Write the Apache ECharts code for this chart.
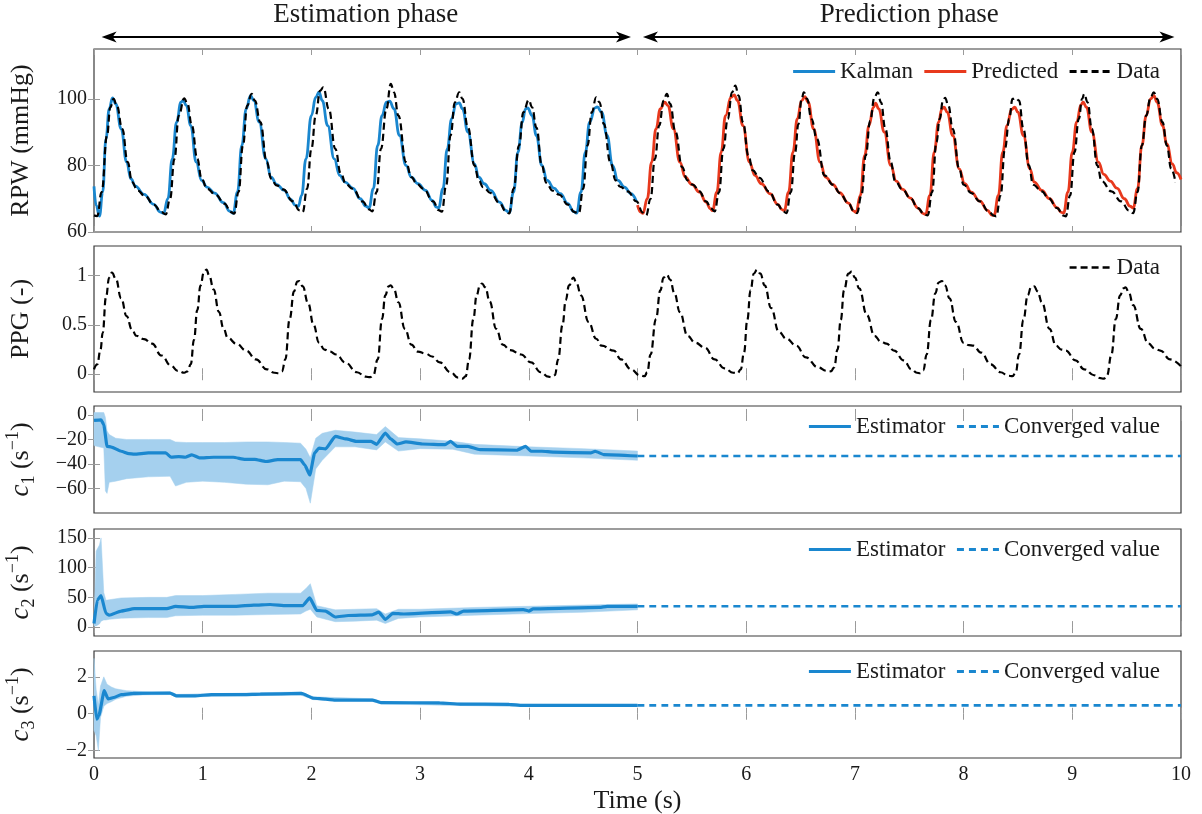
<!DOCTYPE html>
<html>
<head>
<meta charset="utf-8">
<script src="https://cdn.jsdelivr.net/npm/echarts@6.0.0/dist/echarts.min.js"></script>
<style>
  html, body { margin: 0; padding: 0; background: #fff; }
  #chart { width: 1202px; height: 814px; }
</style>
</head>
<body>
<div id="chart"></div>
<script>
// ---- data ----
// RPW (mmHg), measured
var rpwData = [
  [0.00, 65.0], [0.03, 64.8], [0.07, 72], [0.12, 89], [0.15, 97.5], [0.18, 100], [0.21, 98], [0.26, 91], [0.31, 81], [0.35, 75], [0.40, 72.5], [0.47, 70.8], [0.55, 68.2], [0.62, 66], [0.66, 65.3],
  [0.70, 70], [0.74, 82], [0.78, 95], [0.83, 100.2], [0.86, 98.5], [0.90, 92], [0.95, 82], [0.99, 76], [1.04, 73], [1.12, 71.2], [1.20, 68.5], [1.26, 66], [1.29, 65.5],
  [1.33, 72], [1.37, 86], [1.41, 98], [1.45, 101.5], [1.48, 99.5], [1.53, 93], [1.59, 81], [1.63, 76], [1.68, 74], [1.74, 72.8], [1.83, 69.2], [1.89, 66.5], [1.92, 66],
  [1.96, 73], [2.00, 85], [2.04, 95], [2.08, 102.5], [2.11, 103.5], [2.16, 97], [2.22, 85], [2.27, 77.5], [2.32, 74.3], [2.38, 73], [2.47, 69.2], [2.53, 66.8], [2.56, 66.2],
  [2.60, 72], [2.64, 85], [2.69, 97], [2.73, 104.5], [2.76, 102], [2.80, 95], [2.87, 81], [2.92, 76.5], [2.97, 74.5], [3.03, 73], [3.12, 69.2], [3.17, 66.6], [3.20, 66.1],
  [3.24, 74], [3.28, 89], [3.32, 99], [3.36, 102], [3.39, 100], [3.44, 91.4], [3.50, 80], [3.54, 75.5], [3.58, 73.5], [3.65, 71.7], [3.73, 68.7], [3.79, 66.2], [3.82, 65.6],
  [3.86, 73], [3.91, 86], [3.95, 96], [4.00, 99.7], [4.03, 97.5], [4.07, 91.4], [4.12, 80], [4.16, 74.8], [4.22, 72.4], [4.28, 71.2], [4.36, 68.2], [4.42, 66], [4.46, 65.6],
  [4.50, 73], [4.54, 86], [4.58, 96], [4.62, 100.5], [4.65, 99], [4.69, 92.5], [4.75, 81], [4.80, 75.5], [4.84, 73.6], [4.91, 72.2], [4.99, 69.2], [5.05, 65.8], [5.08, 65],
  [5.12, 70], [5.16, 82], [5.20, 92], [5.24, 99.5], [5.27, 101.5], [5.30, 98.5], [5.35, 90], [5.41, 79.5], [5.46, 75.5], [5.51, 74.2], [5.57, 72.2], [5.63, 69.2], [5.68, 67], [5.71, 66.2],
  [5.75, 72], [5.79, 85], [5.83, 94], [5.87, 102], [5.90, 104], [5.93, 101], [5.97, 93], [6.02, 83], [6.06, 78.5], [6.12, 76.3], [6.21, 72.2], [6.29, 68.2], [6.34, 66.2], [6.37, 65.7],
  [6.41, 72], [6.45, 84], [6.48, 92.4], [6.51, 100], [6.53, 102], [6.56, 100], [6.60, 94], [6.65, 88], [6.72, 77], [6.80, 74.2], [6.86, 71.7], [6.94, 68.7], [6.99, 66.3], [7.02, 65.7],
  [7.06, 71], [7.10, 83], [7.14, 93.4], [7.18, 100.5], [7.21, 102], [7.24, 99], [7.28, 91], [7.33, 81], [7.37, 75.3], [7.44, 72.7], [7.51, 70.2], [7.58, 67.2], [7.64, 65.2], [7.67, 65],
  [7.71, 72], [7.75, 87], [7.78, 94], [7.81, 99.5], [7.83, 100.3], [7.86, 98], [7.90, 91], [7.96, 79], [8.00, 74.2], [8.07, 71.7], [8.15, 69.2], [8.23, 66.2], [8.28, 64.9], [8.30, 64.7],
  [8.34, 71], [8.38, 85], [8.42, 94], [8.45, 100], [8.48, 100.3], [8.51, 99.5], [8.55, 91], [8.60, 80], [8.64, 74.2], [8.72, 72.2], [8.78, 70.2], [8.86, 67.2], [8.92, 64.9], [8.94, 64.7],
  [8.98, 71], [9.02, 84], [9.06, 94], [9.09, 100], [9.11, 101.5], [9.14, 99], [9.18, 91], [9.23, 80], [9.27, 75.3], [9.36, 72.2], [9.45, 69.2], [9.52, 66.5], [9.56, 65.7],
  [9.60, 72], [9.64, 86], [9.68, 95], [9.72, 100.5], [9.75, 102], [9.78, 100], [9.83, 93], [9.87, 86], [9.91, 79], [9.95, 74.8]
];
// Kalman estimate, estimation phase
var kalman = [
  [0.00, 73.7], [0.02, 68], [0.05, 64.8], [0.08, 72], [0.11, 88], [0.14, 97], [0.17, 100.3], [0.20, 98.5], [0.25, 91], [0.30, 81], [0.34, 76], [0.38, 73.8], [0.46, 71.3], [0.55, 68.3], [0.61, 66], [0.64, 65.6],
  [0.68, 70], [0.72, 82], [0.76, 93], [0.80, 99], [0.82, 99.5], [0.85, 98], [0.89, 92], [0.94, 81], [0.99, 75.5], [1.04, 73.5], [1.11, 71.7], [1.19, 68.8], [1.25, 66.2], [1.28, 65.6],
  [1.32, 72], [1.36, 86], [1.40, 97], [1.44, 101], [1.47, 99.5], [1.52, 93], [1.58, 82], [1.63, 76.5], [1.68, 74.3], [1.75, 72.5], [1.81, 69.8], [1.85, 68.1], [1.88, 67.7],
  [1.91, 71], [1.95, 82], [2.00, 95], [2.04, 100.5], [2.07, 102], [2.10, 99.5], [2.15, 92], [2.21, 82], [2.26, 77], [2.31, 75], [2.38, 73.2], [2.45, 70], [2.50, 67.8], [2.53, 67.2],
  [2.57, 73], [2.61, 86], [2.65, 95], [2.69, 99], [2.72, 99.3], [2.76, 97], [2.81, 89], [2.87, 80], [2.92, 76.5], [2.98, 74.5], [3.05, 72.5], [3.11, 69.5], [3.15, 67.5], [3.17, 67.2],
  [3.21, 73], [3.25, 85], [3.29, 94], [3.33, 98.5], [3.36, 98.8], [3.39, 97], [3.44, 90], [3.50, 80.5], [3.54, 76.5], [3.59, 74.5], [3.65, 72.5], [3.73, 69], [3.79, 66.5], [3.82, 65.8],
  [3.86, 72], [3.90, 84], [3.94, 93], [3.97, 97], [3.99, 97.3], [4.03, 95], [4.07, 89], [4.12, 80], [4.17, 75.5], [4.23, 73.2], [4.29, 71.5], [4.36, 68.5], [4.41, 66.2], [4.44, 65.7],
  [4.48, 72], [4.52, 84], [4.56, 93], [4.61, 97.3], [4.63, 97.6], [4.67, 96], [4.72, 89], [4.77, 80], [4.82, 75.5], [4.88, 73.5], [4.94, 71.5], [4.99, 69.2]
];
// Predicted, prediction phase
var predicted = [
  [5.00, 68.1], [5.03, 66], [5.05, 65.6], [5.09, 70], [5.13, 81], [5.17, 91], [5.21, 97], [5.25, 99], [5.28, 98], [5.33, 91], [5.39, 81], [5.44, 76.5], [5.50, 74.3], [5.57, 72], [5.63, 69], [5.67, 67], [5.69, 66.4],
  [5.73, 72], [5.77, 84], [5.81, 95], [5.86, 100.5], [5.89, 101.2], [5.92, 99.5], [5.97, 92], [6.03, 81], [6.08, 77], [6.14, 74.5], [6.22, 71.5], [6.29, 68.3], [6.33, 66.7], [6.35, 66.4],
  [6.39, 72], [6.43, 84], [6.47, 94], [6.51, 99.5], [6.54, 100.7], [6.57, 99], [6.62, 91], [6.68, 81], [6.73, 76.5], [6.80, 74.2], [6.86, 71.8], [6.94, 68.7], [6.99, 66.3], [7.01, 65.9],
  [7.05, 71], [7.09, 83], [7.13, 92], [7.17, 97.5], [7.19, 98.7], [7.22, 97], [7.27, 90], [7.33, 80], [7.38, 75.3], [7.44, 72.8], [7.51, 70.2], [7.58, 67.2], [7.63, 65.5], [7.65, 65.3],
  [7.69, 71], [7.73, 84], [7.77, 93], [7.80, 97], [7.82, 97.5], [7.85, 96], [7.90, 89], [7.96, 79], [8.01, 74.5], [8.07, 72], [8.15, 69.3], [8.22, 66.5], [8.26, 65.1], [8.28, 65],
  [8.32, 71], [8.36, 84], [8.40, 92], [8.44, 96.8], [8.47, 97.5], [8.50, 96], [8.55, 89], [8.61, 79], [8.65, 75], [8.72, 72.5], [8.79, 70], [8.86, 67.3], [8.90, 65.9], [8.92, 65.7],
  [8.96, 72], [9.00, 84], [9.04, 93], [9.08, 98.3], [9.10, 99], [9.13, 97.5], [9.18, 90], [9.24, 81], [9.29, 77.3], [9.35, 75.3], [9.41, 73.2], [9.48, 70], [9.53, 67.8], [9.56, 67.2],
  [9.60, 73], [9.64, 86], [9.68, 95], [9.72, 100], [9.75, 101], [9.78, 99], [9.83, 92], [9.87, 86.4], [9.92, 80.5], [9.96, 77.8], [10.0, 75.8]
];
// PPG (-), measured
var ppgData = [
  [0.00, 0.05], [0.03, 0.10], [0.06, 0.25], [0.08, 0.42], [0.11, 0.78], [0.14, 0.98], [0.165, 1.03], [0.20, 0.97], [0.25, 0.77], [0.30, 0.59], [0.35, 0.45], [0.39, 0.39], [0.46, 0.355], [0.535, 0.31], [0.62, 0.19], [0.71, 0.085], [0.77, 0.035], [0.83, 0.015], [0.86, 0.03],
  [0.89, 0.10], [0.92, 0.35], [0.95, 0.65], [0.98, 0.90], [1.01, 1.03], [1.035, 1.06], [1.06, 1.0], [1.10, 0.86], [1.15, 0.63], [1.19, 0.47], [1.23, 0.37], [1.31, 0.31], [1.40, 0.24], [1.49, 0.15], [1.59, 0.05], [1.66, 0.015], [1.70, 0.01], [1.73, 0.03],
  [1.76, 0.15], [1.80, 0.56], [1.84, 0.84], [1.87, 0.94], [1.89, 0.945], [1.92, 0.89], [1.97, 0.72], [2.02, 0.50], [2.07, 0.32], [2.12, 0.25], [2.17, 0.23], [2.23, 0.20], [2.31, 0.12], [2.42, 0.02], [2.50, -0.025], [2.54, -0.03], [2.57, -0.01],
  [2.61, 0.15], [2.65, 0.56], [2.68, 0.80], [2.71, 0.89], [2.73, 0.90], [2.76, 0.86], [2.80, 0.73], [2.86, 0.46], [2.92, 0.30], [2.98, 0.23], [3.05, 0.21], [3.11, 0.18], [3.18, 0.12], [3.28, 0.02], [3.35, -0.035], [3.39, -0.045], [3.42, -0.02],
  [3.45, 0.15], [3.49, 0.56], [3.52, 0.80], [3.55, 0.90], [3.57, 0.92], [3.60, 0.88], [3.64, 0.74], [3.70, 0.46], [3.76, 0.30], [3.83, 0.245], [3.93, 0.20], [4.02, 0.12], [4.11, 0.02], [4.18, -0.025], [4.21, -0.03], [4.24, -0.01],
  [4.27, 0.15], [4.31, 0.50], [4.34, 0.75], [4.37, 0.90], [4.41, 0.98], [4.44, 0.92], [4.48, 0.80], [4.55, 0.53], [4.62, 0.36], [4.67, 0.29], [4.78, 0.24], [4.85, 0.15], [4.94, 0.05], [5.02, -0.01], [5.065, -0.02], [5.09, 0.02],
  [5.12, 0.20], [5.17, 0.56], [5.21, 0.85], [5.24, 0.98], [5.27, 1.01], [5.30, 0.96], [5.34, 0.82], [5.39, 0.63], [5.46, 0.39], [5.53, 0.32], [5.62, 0.27], [5.71, 0.15], [5.80, 0.06], [5.88, 0.015], [5.92, 0.01], [5.95, 0.05],
  [5.98, 0.22], [6.01, 0.55], [6.04, 0.85], [6.07, 1.02], [6.10, 1.06], [6.13, 1.02], [6.17, 0.90], [6.23, 0.67], [6.30, 0.43], [6.37, 0.36], [6.46, 0.29], [6.55, 0.17], [6.66, 0.07], [6.74, 0.035], [6.78, 0.03], [6.81, 0.07],
  [6.84, 0.25], [6.87, 0.55], [6.90, 0.85], [6.94, 1.02], [6.97, 1.04], [7.00, 0.98], [7.04, 0.87], [7.11, 0.60], [7.18, 0.39], [7.24, 0.33], [7.29, 0.31], [7.36, 0.24], [7.45, 0.14], [7.52, 0.05], [7.57, 0.015], [7.60, 0.01], [7.63, 0.04],
  [7.66, 0.20], [7.70, 0.55], [7.74, 0.82], [7.77, 0.93], [7.80, 0.945], [7.83, 0.90], [7.87, 0.77], [7.93, 0.53], [8.00, 0.32], [8.05, 0.295], [8.09, 0.29], [8.16, 0.22], [8.25, 0.10], [8.34, 0.02], [8.41, -0.015], [8.45, -0.02], [8.48, 0.02],
  [8.51, 0.20], [8.55, 0.55], [8.59, 0.80], [8.62, 0.88], [8.65, 0.89], [8.68, 0.84], [8.72, 0.73], [8.79, 0.46], [8.85, 0.29], [8.90, 0.25], [8.94, 0.24], [9.03, 0.14], [9.11, 0.05], [9.20, -0.01], [9.26, -0.04], [9.29, -0.045], [9.32, -0.01],
  [9.36, 0.20], [9.40, 0.56], [9.44, 0.80], [9.47, 0.87], [9.49, 0.88], [9.52, 0.83], [9.56, 0.70], [9.63, 0.46], [9.70, 0.31], [9.76, 0.26], [9.81, 0.24], [9.90, 0.15], [10.0, 0.08]
];

// c1 (1/s)
var c1Est = [
  [0, -4.5], [0.065, -4], [0.09, -8], [0.12, -25.6], [0.16, -26.2], [0.25, -29.6], [0.32, -31.5], [0.37, -32], [0.50, -31], [0.66, -31], [0.71, -34.5], [0.78, -34], [0.84, -34.5], [0.90, -32.5], [0.97, -35],
  [1.10, -34.5], [1.28, -34.5], [1.39, -36.3], [1.48, -36.2], [1.58, -38], [1.69, -36.5], [1.90, -36.5], [1.94, -41], [1.985, -49], [2.03, -31], [2.07, -27], [2.13, -27.7], [2.22, -17.5], [2.32, -19.6],
  [2.41, -21.5], [2.55, -21.5], [2.60, -24], [2.68, -14.8], [2.73, -19.6], [2.79, -23.7], [2.87, -22], [3.02, -23.7], [3.23, -24.2], [3.28, -21.5], [3.34, -25.6], [3.44, -25.6], [3.55, -28.3], [3.89, -28.8],
  [3.97, -25.6], [4.02, -29.6], [4.12, -29.6], [4.23, -30.4], [4.57, -31], [4.61, -29.6], [4.69, -32.3], [5.0, -33.5]
];
var c1BandT = [0, 0.09, 0.105, 0.12, 0.14, 0.2, 0.3, 0.5, 0.7, 0.75, 0.85, 1.0, 1.2, 1.4, 1.6, 1.75, 1.9, 1.95, 1.99, 2.04, 2.1, 2.22, 2.4, 2.6, 2.68, 2.8, 3.0, 3.3, 3.5, 4.0, 4.5, 5.0];
var c1Upper = [2, 2, -2, -13, -16, -19, -20, -20, -20, -22, -22.5, -22.5, -22.5, -22, -22, -22.5, -23, -28, -35, -19, -15, -12.5, -14, -16, -9.5, -18.5, -19.5, -21.5, -24, -26, -27.5, -29.5];
var c1Lower = [-25, -27, -62, -64, -55, -54, -52, -50.5, -50, -58, -55, -54, -55, -56.5, -57, -54, -54.5, -60, -72, -44, -37, -26, -26, -28.5, -22, -29.5, -27.5, -28, -32, -33.5, -35, -37];
var c1Converged = -33.5;

// c2 (1/s)
var c2Est = [
  [0, 6], [0.03, 45], [0.065, 53], [0.11, 23], [0.14, 20], [0.25, 27], [0.37, 31], [0.67, 31], [0.75, 35], [0.9, 33], [1.01, 35], [1.31, 35], [1.47, 37], [1.62, 38], [1.77, 36], [1.92, 36],
  [1.985, 49], [2.05, 28], [2.13, 27], [2.22, 17], [2.34, 19.5], [2.56, 20.6], [2.62, 25], [2.68, 13], [2.75, 23], [2.85, 22], [3.28, 25.6], [3.34, 22], [3.40, 27], [3.95, 29.4], [4.0, 27],
  [4.04, 30.5], [4.65, 33], [4.72, 35], [5.0, 35]
];
var c2BandT = [0, 0.02, 0.05, 0.065, 0.09, 0.11, 0.14, 0.25, 0.5, 0.67, 0.75, 1.0, 1.3, 1.6, 1.9, 1.95, 1.99, 2.05, 2.22, 2.4, 2.6, 2.68, 2.8, 3.0, 3.5, 4.0, 4.5, 5.0];
var c2Upper = [9, 128, 138, 150, 58, 45, 46, 49, 50, 50, 53, 53, 55, 57, 57, 65, 73, 36, 29, 30, 31, 22, 30, 30, 33, 35, 37, 39];
var c2Lower = [2, 2, 5, 10, 12, 12, 13, 15, 16, 16, 19, 20, 20, 21, 22, 27, 30, 17, 9, 10, 11.6, 6, 14.6, 17, 20, 22.7, 25, 29];
var c2Converged = 35;

// c3 (1/s)
var c3Est = [
  [0, 0.97], [0.025, -0.3], [0.045, -0.1], [0.094, 1.25], [0.13, 0.8], [0.18, 0.88], [0.25, 1.03], [0.36, 1.1], [0.70, 1.12], [0.76, 0.97], [0.93, 0.97], [1.08, 1.03], [1.38, 1.03],
  [1.53, 1.06], [1.91, 1.1], [2.02, 0.84], [2.13, 0.79], [2.21, 0.74], [2.56, 0.74], [2.64, 0.6], [3.18, 0.59], [3.37, 0.52], [3.82, 0.51], [3.94, 0.45], [5.0, 0.45]
];
var c3BandT = [0, 0.02, 0.04, 0.06, 0.09, 0.12, 0.16, 0.2, 0.3, 0.45, 0.7, 0.76, 1.9, 2.02, 2.56, 2.64, 3.3, 3.94, 5.0];
var c3Upper = [3.0, 1.3, 0.5, 1.5, 2.0, 1.6, 1.45, 1.35, 1.25, 1.2, 1.19, 1.05, 1.18, 0.92, 0.81, 0.67, 0.59, 0.51, 0.5];
var c3Lower = [-0.9, -1.2, -2.0, -0.2, 0.4, 0.55, 0.65, 0.78, 0.95, 1.02, 1.04, 0.9, 1.02, 0.76, 0.67, 0.53, 0.45, 0.39, 0.4];
var c3Converged = 0.45;

// axis ranges and tick labels per panel
var yMin = [60, -0.18, -80, -15, -2.4];
var yMax = [115, 1.3, 7.3, 165, 3.4];
var yTicks = [[60, 80, 100], [0, 0.5, 1], [-60, -40, -20, 0], [0, 50, 100, 150], [-2, 0, 2]];
var yNames = ['RPW (mmHg)', 'PPG (-)', '{i|c}{sb|1} (s{sp|−1})', '{i|c}{sb|2} (s{sp|−1})', '{i|c}{sb|3} (s{sp|−1})'];

// ---- styling ----
var FONT = 'Liberation Serif';
var BLUE = '#1a87cf';
var RED = '#e8391d';
var BAND = '#a5d0ee';
var TXT = '#1a1a1a';

var gridPos = [
  {top: 49, height: 183},
  {top: 246, height: 146},
  {top: 406, height: 107},
  {top: 529, height: 107},
  {top: 651, height: 107}
];

var tickStyle = {inside: true, length: 6, lineStyle: {color: '#9a9a9a', width: 1}};
var nameStyle = {
  fontFamily: FONT, fontSize: 26, color: TXT, lineHeight: 34,
  rich: {
    i: {fontFamily: FONT, fontSize: 27, fontStyle: 'italic', color: TXT, lineHeight: 34},
    sb: {fontFamily: FONT, fontSize: 18, color: TXT, verticalAlign: 'bottom', lineHeight: 18},
    sp: {fontFamily: FONT, fontSize: 18, color: TXT, verticalAlign: 'top', lineHeight: 18}
  }
};
var minus = function (v) { return String(v).replace('-', '\u2212'); };

var grids = [], xAxes = [], yAxes = [];
gridPos.forEach(function (g, i) {
  grids.push({left: 94, right: 21, top: g.top, height: g.height, show: true,
    containLabel: false, outerBoundsMode: 'none',
    borderColor: '#3a3a3a', borderWidth: 1.2, backgroundColor: 'transparent'});
  var last = i === gridPos.length - 1;
  xAxes.push({
    type: 'value', gridIndex: i, min: 0, max: 10, interval: 1, position: 'bottom',
    axisLine: {show: false}, axisTick: tickStyle, splitLine: {show: false},
    axisLabel: {show: last, margin: 7, fontFamily: FONT, fontSize: 20, color: TXT},
    name: last ? 'Time (s)' : '', nameLocation: 'middle', nameGap: 30,
    nameTextStyle: {fontFamily: FONT, fontSize: 26, color: TXT}
  });
  xAxes.push({
    type: 'value', gridIndex: i, min: 0, max: 10, interval: 1, position: 'top',
    axisLine: {show: false}, axisTick: tickStyle, splitLine: {show: false}, axisLabel: {show: false}
  });
  yAxes.push({
    type: 'value', gridIndex: i, min: yMin[i], max: yMax[i], position: 'left',
    axisLine: {show: false}, splitLine: {show: false},
    axisTick: Object.assign({customValues: yTicks[i]}, tickStyle),
    axisLabel: {customValues: yTicks[i], margin: 7, fontFamily: FONT, fontSize: 20, color: TXT, formatter: minus},
    name: yNames[i], nameLocation: 'middle', nameRotate: 90, nameGap: 56, nameTextStyle: nameStyle
  });
  yAxes.push({
    type: 'value', gridIndex: i, min: yMin[i], max: yMax[i], position: 'right',
    axisLine: {show: false}, splitLine: {show: false},
    axisTick: Object.assign({customValues: yTicks[i]}, tickStyle),
    axisLabel: {show: false}
  });
});

function line(name, data, panel, color, width, dash, z) {
  return {
    type: 'line', name: name, data: data, xAxisIndex: panel * 2, yAxisIndex: panel * 2,
    symbol: 'none', smooth: 0.45, smoothMonotone: 'x', z: z || 3, animation: false,
    lineStyle: {color: color, width: width, type: dash || 'solid'}, itemStyle: {color: color}
  };
}
function estLine(name, data, panel) {
  var s = line(name, data, panel, BLUE, 3.2, 'solid', 4);
  s.smooth = 0.15;
  return s;
}
// uncertainty band: one polygon from upper points then lower points, via the axes
function band(name, t, lo, hi, panel) {
  return {
    type: 'custom', name: name, xAxisIndex: panel * 2, yAxisIndex: panel * 2, z: 2, silent: true,
    animation: false,
    data: t.map(function (x, k) { return [x, lo[k], hi[k]]; }),
    encode: {x: 0, y: [1, 2]},
    renderItem: function (params, api) {
      if (params.dataIndexInside !== 0) return null;
      var n = params.dataInsideLength, top = [], bot = [];
      for (var j = 0; j < n; j++) {
        top.push(api.coord([api.value(0, j), api.value(2, j)]));
        bot.push(api.coord([api.value(0, j), api.value(1, j)]));
      }
      return {type: 'polygon', shape: {points: top.concat(bot.reverse())},
        style: {fill: BAND, stroke: BAND, lineWidth: 0.5}};
    }
  };
}
function converged(v, panel) {
  return line('Converged value', [[5, v], [10, v]], panel, BLUE, 2.6, [7, 5], 4);
}

var series = [
  line('Kalman', kalman, 0, BLUE, 2.8),
  line('Predicted', predicted, 0, RED, 2.8),
  line('Data', rpwData, 0, '#000', 2.2, [7, 4], 5),
  line('Data', ppgData, 1, '#000', 2.2, [7, 4], 5),
  band('c1 band', c1BandT, c1Lower, c1Upper, 2),
  estLine('Estimator', c1Est, 2), converged(c1Converged, 2),
  band('c2 band', c2BandT, c2Lower, c2Upper, 3),
  estLine('Estimator', c2Est, 3), converged(c2Converged, 3),
  band('c3 band', c3BandT, c3Lower, c3Upper, 4),
  estLine('Estimator', c3Est, 4), converged(c3Converged, 4)
];

function legend(items, top, lw) {
  return {
    data: items, top: top, right: 42, padding: 0, itemGap: 10, itemWidth: 42, itemHeight: 14,
    selectedMode: false, itemStyle: {opacity: 0, borderWidth: 0}, lineStyle: {width: lw},
    textStyle: {fontFamily: FONT, fontSize: 23, color: TXT}
  };
}

var option = {
  backgroundColor: '#fff',
  animation: false,
  grid: grids,
  xAxis: xAxes,
  yAxis: yAxes,
  legend: [
    legend(['Kalman', 'Predicted', 'Data'], 60, 2.8),
    legend(['Data'], 256, 2.4),
    legend(['Estimator', 'Converged value'], 415, 3.2),
    legend(['Estimator', 'Converged value'], 538, 3.2),
    legend(['Estimator', 'Converged value'], 660, 3.2)
  ],
  series: series
};

var chart = echarts.init(document.getElementById('chart'), null, {renderer: 'canvas'});
chart.setOption(option);

// phase annotations above the first panel, positioned through the time axis
var px = function (t) { return chart.convertToPixel({xAxisIndex: 0}, t); };
function arrow(t1, t2, y) {
  var a = px(t1), b = px(t2), L = 15, W = 5.5;
  return [
    {type: 'line', shape: {x1: a + 8, y1: y, x2: b - 8, y2: y}, style: {stroke: '#000', lineWidth: 2}},
    {type: 'polygon', shape: {points: [[a, y], [a + L, y - W], [a + L - 4, y], [a + L, y + W]]}, style: {fill: '#000'}},
    {type: 'polygon', shape: {points: [[b, y], [b - L, y - W], [b - L + 4, y], [b - L, y + W]]}, style: {fill: '#000'}}
  ];
}
function label(text, t) {
  return {type: 'text', x: px(t), y: 15, style: {text: text, fontFamily: FONT, fontSize: 27, fill: TXT,
    align: 'center', verticalAlign: 'middle'}};
}
chart.setOption({
  graphic: [label('Estimation phase', 2.5), label('Prediction phase', 7.5)]
    .concat(arrow(0.07, 4.94, 37))
    .concat(arrow(5.05, 9.94, 37))
});
</script>
</body>
</html>
